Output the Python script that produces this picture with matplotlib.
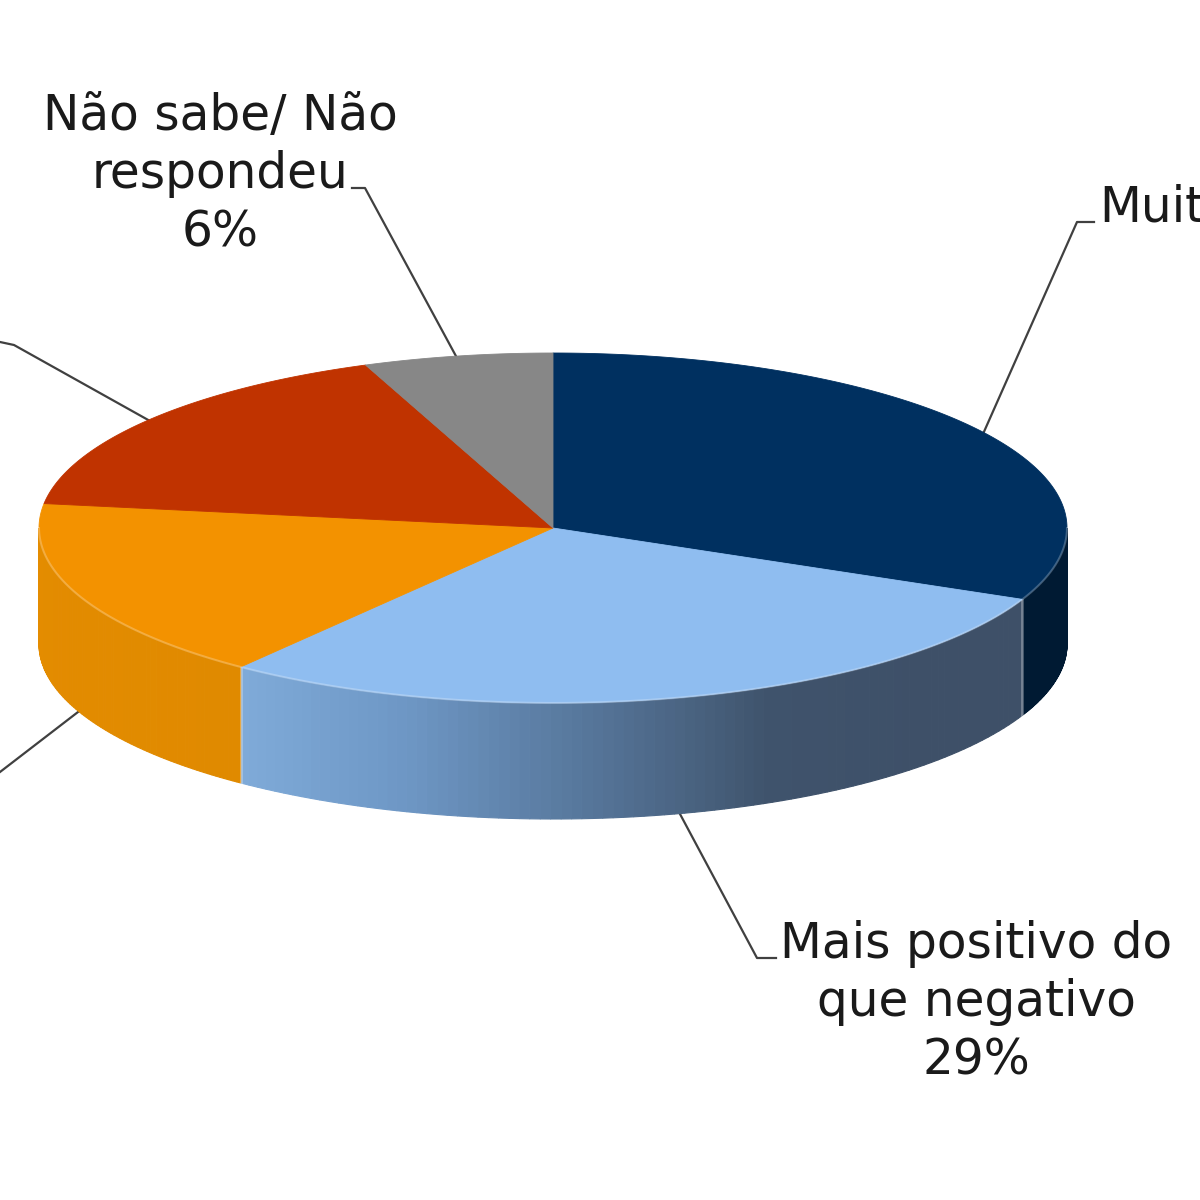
import matplotlib
matplotlib.use("Agg")
import matplotlib.pyplot as plt
import numpy as np
from matplotlib.colors import to_rgb
from matplotlib.patches import Polygon

# clockwise from 12 o'clock; the two left slices have their labels outside the picture
values = [32, 29, 17, 17, 6]
top_colors = ["#003060", "#8FBDF0", "#F39200", "#C03300", "#878787"]
# wall shading, left end to right end of the visible wall
wall_colors = [["#001A33", "#001A33"],
               ["#80ABD9", "#6E97C5", "#56769A", "#3F536C", "#3E5068", "#3E5068"],
               ["#E48C00", "#E08A00"],
               ["#A02B00", "#A02B00"],
               ["#707070", "#707070"]]
label_blue = "Mais positivo do\nque negativo\n29%"
label_grey = "Não sabe/ Não\nrespondeu\n6%"
label_navy = "Muit"  # cut by the right edge in the picture

CX, CY, RX, RY, DEPTH = 553, 528, 514, 175, 116


def rim(t):
    return CX + RX * np.sin(t), CY - RY * np.cos(t)


fig = plt.figure(figsize=(12, 12), dpi=100)
ax = fig.add_axes([0, 0, 1, 1])
ax.set_xlim(0, 1200)
ax.set_ylim(1200, 0)
ax.axis("off")

edges = np.deg2rad(np.cumsum([0] + values) / sum(values) * 360)

# walls: only the front half (90..270 deg) can be seen
for i in range(len(values)):
    t0, t1 = max(edges[i], np.pi / 2), min(edges[i + 1], 3 * np.pi / 2)
    if t1 <= t0:
        continue
    ts = np.linspace(t0, t1, 90)
    stops = np.array([to_rgb(c) for c in wall_colors[i]])
    pos = np.linspace(0, 1, len(stops))
    for a, b in zip(ts[:-1], ts[1:]):
        xa, ya = rim(a)
        xb, yb = rim(b)
        # left end of the wall is the far end in t, so run the ramp backwards
        f = (t1 - (a + b) / 2) / (t1 - t0)
        col = [np.interp(f, pos, stops[:, k]) for k in range(3)]
        ax.add_patch(Polygon([(xa, ya), (xb, yb), (xb, yb + DEPTH), (xa, ya + DEPTH)],
                             fc=col, ec=col, lw=0.8, zorder=2))
    if edges[i + 1] < 3 * np.pi / 2:
        xe, ye = rim(edges[i + 1])
        ax.plot([xe, xe], [ye, ye + DEPTH], color="#FFFFFF", alpha=0.3, lw=2, zorder=3)

# top face
for i in range(len(values)):
    ts = np.linspace(edges[i], edges[i + 1], 200)
    xs, ys = rim(ts)
    ax.add_patch(Polygon(np.column_stack([np.r_[CX, xs], np.r_[CY, ys]]),
                         fc=top_colors[i], ec=top_colors[i], lw=0.6, zorder=4))

# thin bright rim where the top meets the wall
ts = np.linspace(np.pi / 2, 3 * np.pi / 2, 300)
xs, ys = rim(ts)
ax.plot(xs, ys, color="#FFFFFF", alpha=0.25, lw=1.5, zorder=5)

# leader lines
LINE = dict(color="#404040", lw=1.6, zorder=1, solid_joinstyle="round")
ax.plot([457, 365, 352], [358, 188, 188], **LINE)
ax.plot([983, 1077, 1094], [434, 222, 222], **LINE)
ax.plot([150, 14, 0], [421, 345, 342], **LINE)
ax.plot([78, 0], [712, 772], **LINE)
ax.plot([680, 757, 776], [814, 958, 958], **LINE)

TXT = dict(fontsize=35, color="#1A1A1A", linespacing=1.27, family="DejaVu Sans")
ax.text(220, 174, label_grey, ha="center", va="center", **TXT)
ax.text(976, 1002, label_blue, ha="center", va="center", **TXT)
ax.text(1099, 208, label_navy, ha="left", va="center", **TXT)

fig.savefig("out.png", dpi=100)
plt.close(fig)
